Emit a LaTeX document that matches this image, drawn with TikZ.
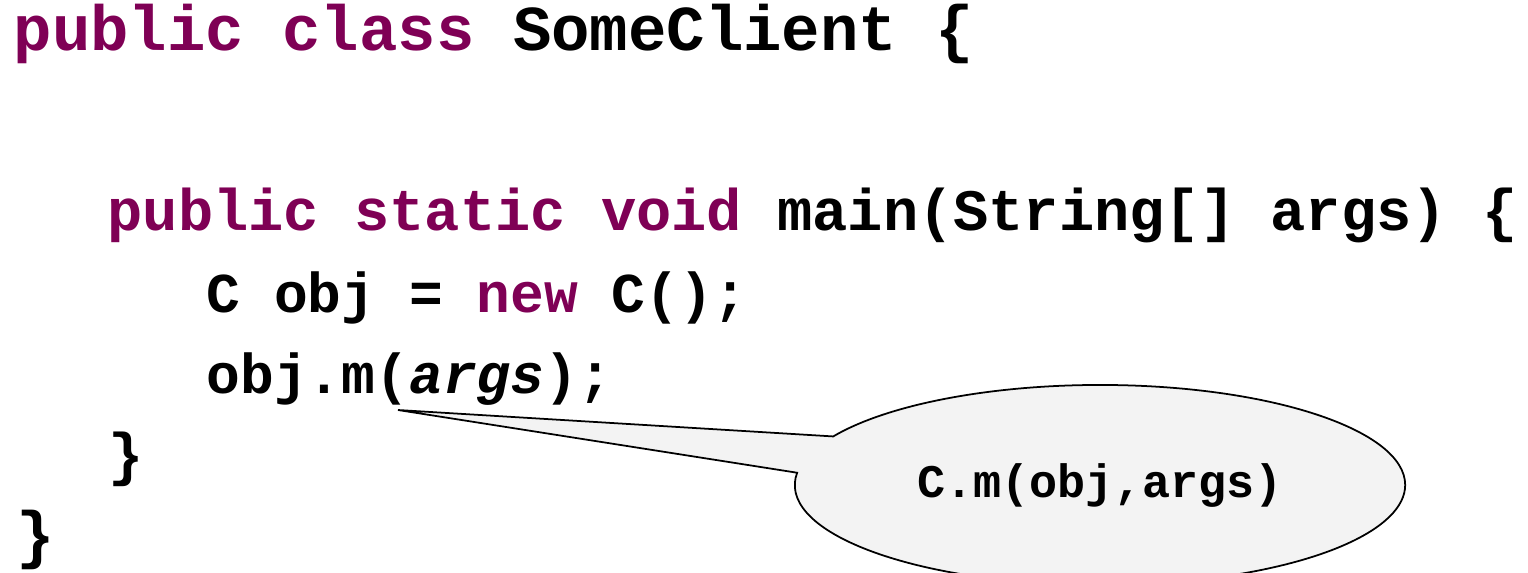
\documentclass[tikz,border=0pt]{standalone}
\usepackage{fontspec}
\setmonofont{Liberation Mono}
\usetikzlibrary{shapes.callouts}
\definecolor{keyword}{HTML}{7F0055}
\definecolor{bubblefill}{HTML}{F3F3F3}
\newcommand{\kw}[1]{\textcolor{keyword}{#1}}
\tikzset{
  codeline/.style={anchor=base west, inner sep=0pt,
    font=\ttfamily\bfseries\fontsize{16.7}{20}\selectfont},
  bodyline/.style={codeline, font=\ttfamily\bfseries\fontsize{16}{19}\selectfont},
  headline/.style={codeline, font=\ttfamily\bfseries\fontsize{18.2}{22}\selectfont},
  bubble/.style={ellipse callout, draw=black, fill=bubblefill, line width=0.5pt,
    minimum width=6.1cm, minimum height=2cm, callout pointer arc=22,
    font=\ttfamily\bfseries\fontsize{13.3}{16}\selectfont}
}
\begin{document}
\begin{tikzpicture}[x=0.01cm,y=-0.01cm]
\useasboundingbox (0,0) rectangle (1528,572);
% the client code
\node[headline] (cls) at (13,50) {\kw{public class} SomeClient \{};
\node[codeline] (main) at (107,230) {\kw{public static void} main(String[] args) \{};
\node[bodyline] (decl) at (206,312) {C obj = \kw{new} C();};
\node[bodyline] (call) at (206,393) {obj.m(\textit{args});};
\node[codeline] (endmain) at (108,474) {\}};
\node[headline] (endcls) at (16,556) {\}};
% what the call really means
\coordinate (tip) at (398,410);
\node[bubble, callout absolute pointer={(tip)}] (note) at (1100,485) {C.m(obj,args)};
\end{tikzpicture}
\end{document}
